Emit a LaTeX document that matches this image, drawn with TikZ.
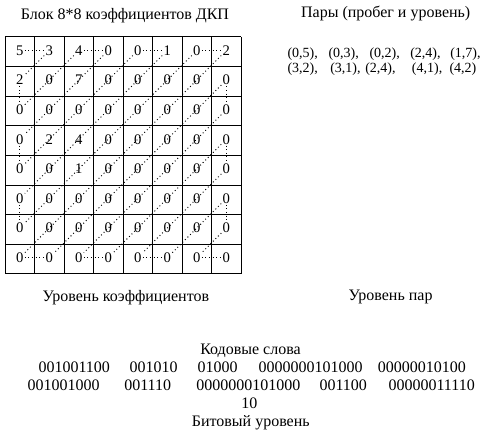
\documentclass[tikz,border=0pt]{standalone}
\usepackage{fontspec}
\setmainfont{Liberation Serif}
\tikzset{
	coef/.style={inner sep=0.8pt, font=\fontsize{11}{13}\selectfont},
	scan/.style={dotted, line width=0.7pt},
	txt/.style={inner sep=0pt, anchor=base, font=\fontsize{12}{14}\selectfont},
	pair/.style={inner sep=0pt, anchor=base west, font=\fontsize{10.5}{12}\selectfont},
	word/.style={inner sep=0pt, anchor=base west, font=\fontsize{12}{14}\selectfont}
}

\begin{document}
\begin{tikzpicture}[x=0.75pt, y=-0.75pt]
	\useasboundingbox (0,0) rectangle (488,435);
	% 8x8 block
	\foreach \k in {0,...,8} {
		\draw[line width=0.75pt] ({5+29.5*\k},37) -- ({5+29.5*\k},273.8);
		\draw[line width=0.75pt] (5,{37+29.6*\k}) -- (241,{37+29.6*\k});
	}
	\foreach \row [count=\i from 0] in {{5,3,4,0,0,1,0,2},{2,0,7,0,0,0,0,0},{0,0,0,0,0,0,0,0},{0,2,4,0,0,0,0,0},{0,0,1,0,0,0,0,0},{0,0,0,0,0,0,0,0},{0,0,0,0,0,0,0,0},{0,0,0,0,0,0,0,0}}
		\foreach \v [count=\j from 0] in \row
			\node[coef] (c-\i-\j) at ({5+29.5*(\j+0.5)},{37+29.6*(\i+0.5)-1.3}) {\v};
	% zigzag scan
	\foreach \a/\b in {0/1,2/3,4/5,6/7} {
		\draw[scan] (c-0-\a) -- (c-0-\b);
		\draw[scan] (c-7-\a) -- (c-7-\b);
	}
	\foreach \a/\b in {1/2,3/4,5/6} {
		\draw[scan] (c-\a-0) -- (c-\b-0);
		\draw[scan] (c-\a-7) -- (c-\b-7);
	}
	\foreach \d in {1,...,7}
		\draw[scan] (c-0-\d) -- (c-\d-0);
	\foreach \d in {1,...,6}
		\draw[scan] (c-\d-7) -- (c-7-\d);
	% titles
	\node[txt] (block) at (125,20) {Блок 8*8 коэффициентов ДКП};
	\node[txt] (pairs) at (385.7,17.3) {Пары (пробег и уровень)};
	\foreach \x/\t [count=\n] in {287.3/{(0,5),}, 328.3/{(0,3),}, 369.3/{(0,2),}, 410/{(2,4),}, 450/{(1,7),}}
		\node[pair] (p-1-\n) at (\x,57.3) {\t};
	\foreach \x/\t [count=\n] in {287.3/{(3,2),}, 330/{(3,1),}, 365/{(2,4),}, 411.7/{(4,1),}, 449.3/{(4,2)}}
		\node[pair] (p-2-\n) at (\x,72.3) {\t};
	\node[txt] (coeflevel) at (125.8,301.5) {Уровень коэффициентов};
	\node[txt] (pairlevel) at (390.5,300.7) {Уровень пар};
	% code words
	\node[txt] (codes) at (250.5,354) {Кодовые слова};
	\foreach \x/\t [count=\n] in {38.3/001001100, 129.3/001010, 197.3/01000, 258.3/0000000101000, 377.7/00000010100}
		\node[word] (w-1-\n) at (\x,372) {\t};
	\foreach \x/\t [count=\n] in {27.3/001001000, 124/001110, 196/0000000101000, 319.3/001100, 388.3/00000011110}
		\node[word] (w-2-\n) at (\x,390) {\t};
	\node[txt] (w-3-1) at (249.3,408) {10};
	\node[txt] (bitlevel) at (250.8,426) {Битовый уровень};
\end{tikzpicture}
\end{document}
